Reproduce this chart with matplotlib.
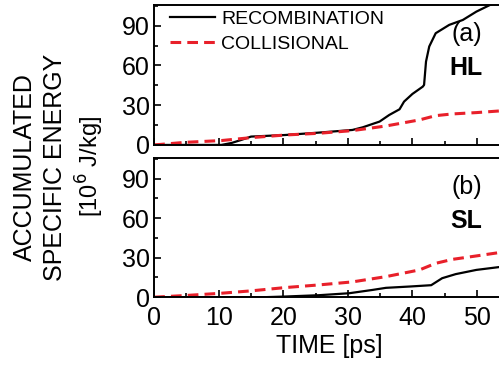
import matplotlib.pyplot as plt
from matplotlib.ticker import MultipleLocator

plt.rcParams["font.family"] = ["Liberation Sans", "DejaVu Sans"]

# panel (a) HL
hl_rec_t = [0, 10.4, 12.0, 13.5, 15.0, 20.3, 25.5, 30.7, 32.3, 33.8, 34.9, 36.4,
            38.0, 38.7, 40.0, 41.6, 41.8, 42.1, 42.6, 43.6, 45.7, 47.8, 49.9, 52.0, 54.5]
hl_rec_e = [0, 0, 1.5, 3.8, 6.3, 7.5, 9.3, 11.3, 13.3, 15.8, 17.6, 22.6,
            26.9, 32.7, 38.5, 44.0, 45.3, 62.9, 74.3, 84.3, 90.6, 94.3, 100.6, 105.6, 110]
hl_col_t = [0, 4.9, 10.4, 15.0, 20.3, 25.5, 30.7, 35.9, 41.1, 43.6, 46.2, 49.9, 54.5]
hl_col_e = [0, 2.0, 3.3, 5.5, 7.5, 8.8, 10.8, 14.3, 18.9, 22.1, 23.4, 24.4, 26.0]

# panel (b) SL
sl_rec_t = [0, 17.0, 20.3, 25.5, 30.2, 33.8, 35.9, 39.6, 42.9, 44.6, 46.7, 49.9, 54.5]
sl_rec_e = [0, 0, 0.5, 1.5, 3.0, 5.5, 7.1, 8.1, 9.1, 14.4, 17.5, 20.7, 23.5]
sl_col_t = [0, 4.9, 10.4, 15.0, 20.3, 25.5, 30.7, 35.9, 41.1, 43.6, 46.2, 49.9, 54.5]
sl_col_e = [0, 1.3, 3.0, 4.8, 7.3, 9.3, 11.6, 15.6, 20.7, 25.7, 28.7, 31.3, 34.6]

fig = plt.figure(figsize=(4.99, 3.66), dpi=100)
ax1 = fig.add_axes([0.309, 0.604, 0.70, 0.382])
ax2 = fig.add_axes([0.309, 0.188, 0.70, 0.380])

panels = [
    (ax1, hl_rec_t, hl_rec_e, hl_col_t, hl_col_e, "(a)", "HL"),
    (ax2, sl_rec_t, sl_rec_e, sl_col_t, sl_col_e, "(b)", "SL"),
]
for ax, rt, re, ct, ce, tag, name in panels:
    ax.plot(rt, re, color="black", lw=1.6, label="RECOMBINATION")
    ax.plot(ct, ce, color="#e8202a", lw=2.2, ls=(0, (3.5, 2.0)), label="COLLISIONAL")
    ax.set_xlim(0, 54.1)
    ax.set_ylim(0, 105.5)
    ax.xaxis.set_major_locator(MultipleLocator(10))
    ax.xaxis.set_minor_locator(MultipleLocator(5))
    ax.yaxis.set_major_locator(MultipleLocator(30))
    ax.yaxis.set_minor_locator(MultipleLocator(15))
    ax.tick_params(which="both", direction="in", width=1.2, labelsize=18, pad=3)
    ax.tick_params(axis="x", pad=6)
    ax.tick_params(which="major", length=5)
    ax.tick_params(which="minor", length=3)
    ax.spines["right"].set_visible(False)
    for s in ["left", "top", "bottom"]:
        ax.spines[s].set_linewidth(1.4)
    ax.text(0.94, 0.79, tag, transform=ax.transAxes, fontsize=18, ha="right", va="center")
    ax.text(0.94, 0.55, name, transform=ax.transAxes, fontsize=18, fontweight="bold",
            ha="right", va="center")

ax1.tick_params(labelbottom=False)
ax1.legend(loc="upper left", frameon=False, fontsize=14, handlelength=2.3,
           handletextpad=0.35, borderpad=0, borderaxespad=0, labelspacing=0.38,
           bbox_to_anchor=(0.045, 0.965))
ax2.set_xlabel("TIME [ps]", fontsize=18, labelpad=3)

fig.text(0.05, 0.544, "ACCUMULATED", rotation=90, fontsize=18, ha="center", va="center")
fig.text(0.111, 0.544, "SPECIFIC ENERGY", rotation=90, fontsize=18, ha="center", va="center")
fig.text(0.18, 0.544, r"[10$^{6}$ J/kg]", rotation=90, fontsize=17, ha="center", va="center")

fig.savefig("out.png", dpi=100)
